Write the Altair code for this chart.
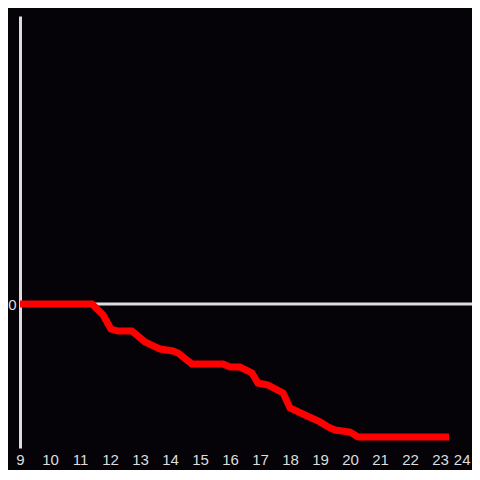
import altair as alt
import pandas as pd

hours = [9, 11.4, 11.77, 12.03, 12.27, 12.73, 13.17, 13.67, 14.1, 14.27, 14.73,
         15.77, 16.0, 16.33, 16.73, 16.93, 17.27, 17.77, 18.0, 18.5, 19.0,
         19.27, 19.5, 20.0, 20.27, 23.3]
values = [0, 0, -0.076, -0.174, -0.188, -0.188, -0.264, -0.313, -0.326, -0.34,
          -0.417, -0.417, -0.438, -0.438, -0.479, -0.549, -0.563, -0.618,
          -0.722, -0.771, -0.819, -0.854, -0.875, -0.889, -0.924, -0.924]
x_ticks = list(range(9, 25))

df = pd.DataFrame({"h": hours, "v": values})
zero = pd.DataFrame({"v": [0]})

FONT = "Liberation Sans"
GRAY = "#dddddd"

xscale = alt.Scale(domain=[9, 9 + 452 / 30], nice=False, zero=False)
yscale = alt.Scale(domain=[-1, 2], nice=False)
yaxis = alt.Axis(values=[0], domain=True, domainColor=GRAY, domainWidth=3,
                 ticks=False, grid=False, labelPadding=4,
                 labelColor=GRAY, labelFont=FONT, labelFontSize=15)

rule = alt.Chart(zero).mark_rule(color=GRAY, strokeWidth=3).encode(
    y=alt.Y("v:Q", scale=yscale, title=None, axis=yaxis),
    x=alt.value(0),
    x2=alt.value(452),
)

line = alt.Chart(df).mark_line(color="#ff0000", strokeWidth=7, strokeJoin="miter").encode(
    x=alt.X("h:Q", scale=xscale, title=None,
            axis=alt.Axis(values=x_ticks, domain=False, ticks=False, grid=False,
                          labelFlush=False, labelOverlap=False, labelPadding=4,
                          labelAlign=alt.ExprRef(expr="datum.value == 24 ? 'right' : 'center'"),
                          labelColor=GRAY, labelFont=FONT, labelFontSize=15,
                          format="d")),
    y=alt.Y("v:Q", scale=yscale, title=None, axis=yaxis),
)

chart = alt.layer(rule, line).properties(
    width=452, height=432,
    autosize=alt.AutoSizeParams(type="none"),
    padding={"left": 12, "top": 8, "right": 0, "bottom": 22},
    background="#050308",
).configure_view(stroke=None)

chart.save("out.html", embed_options={"renderer": "svg", "actions": False})
